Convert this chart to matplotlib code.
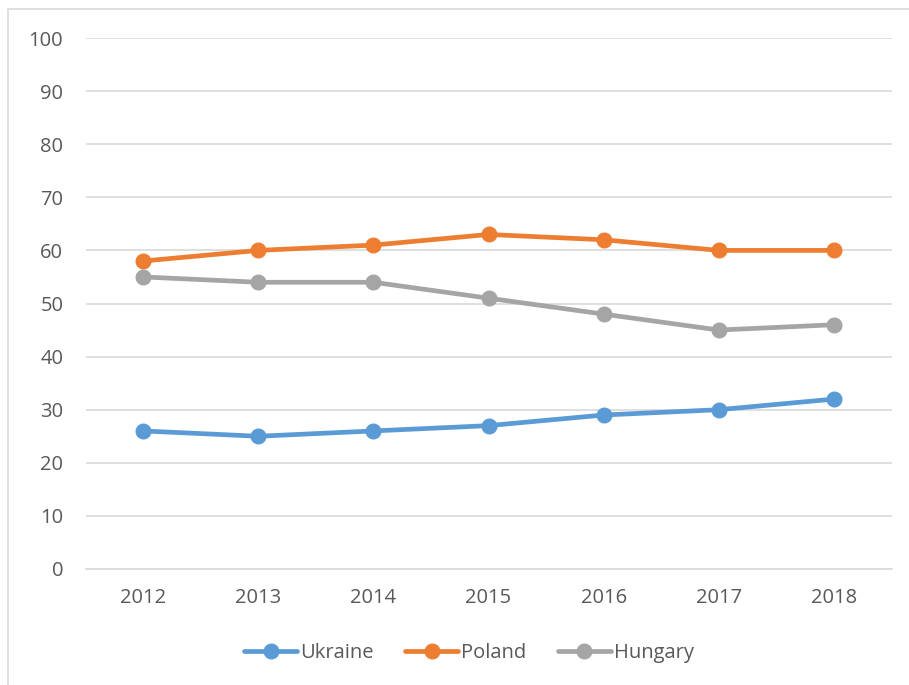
import numpy as np
import matplotlib.pyplot as plt
from matplotlib.patches import Rectangle

years = ["2012", "2013", "2014", "2015", "2016", "2017", "2018"]
ukraine = [26, 25, 26, 27, 29, 30, 32]
poland = [58, 60, 61, 63, 62, 60, 60]
hungary = [55, 54, 54, 51, 48, 45, 46]

series = [("Ukraine", ukraine, "#5B9BD5"),
          ("Poland", poland, "#ED7D31"),
          ("Hungary", hungary, "#A5A5A5")]

text_color = "#595959"
plt.rcParams["font.family"] = ["Open Sans", "DejaVu Sans"]

fig = plt.figure(figsize=(9.09, 6.85), dpi=100)
# outer chart border (Excel chart area)
fig.patches.append(Rectangle((8 / 909, -0.1), 1.2, (685 - 9) / 685 + 0.1,
                             transform=fig.transFigure, fill=False,
                             edgecolor="#D9D9D9", linewidth=1.2))

ax = fig.add_axes([85.5 / 909, 116 / 685, (891.6 - 85.5) / 909, (569 - 38) / 685])
x = np.arange(len(years))
for name, vals, col in series:
    ax.plot(x, vals, color=col, linewidth=3.4, marker="o", markersize=10.5,
            label=name, solid_capstyle="round")

ax.set_xlim(-0.5, len(years) - 0.5)
ax.set_ylim(0, 100)
ax.set_yticks(range(0, 101, 10))
ax.set_xticks(x)
ax.set_xticklabels(years)
ax.grid(axis="y", color="#D9D9D9", linewidth=1.2)
ax.set_axisbelow(True)
for sp in ["top", "right", "left"]:
    ax.spines[sp].set_visible(False)
ax.spines["bottom"].set_color("#D9D9D9")
ax.spines["bottom"].set_linewidth(1.2)
ax.tick_params(length=0, labelsize=14.5, colors=text_color, pad=14)
ax.tick_params(axis="y", pad=16)

fig.legend(loc="center", bbox_to_anchor=(469 / 909, 1 - 653 / 685), ncol=3,
           frameon=False, fontsize=14.5, labelcolor=text_color,
           handlelength=2.6, handletextpad=0.15, columnspacing=1.6)

fig.savefig("out.png", dpi=100)
